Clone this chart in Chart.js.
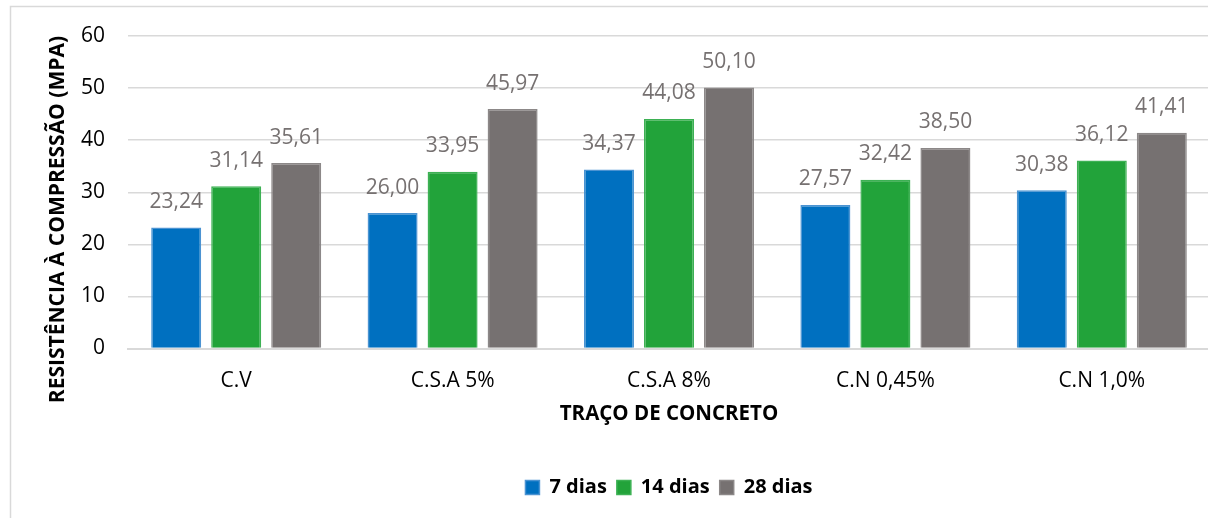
<!DOCTYPE html>
<html>
<head>
<meta charset="utf-8">
<script src="https://cdn.jsdelivr.net/npm/chart.js@4/dist/chart.umd.min.js"></script>
<style>
  html, body { margin: 0; padding: 0; overflow: hidden; background: #fff; }
  #wrap { position: absolute; left: 0; top: 0; width: 1230px; height: 518px; }
</style>
</head>
<body>
<div id="wrap"><canvas id="c"></canvas></div>
<script>
const categories = ['C.V', 'C.S.A 5%', 'C.S.A 8%', 'C.N 0,45%', 'C.N 1,0%'];
const seriesNames = ['7 dias', '14 dias', '28 dias'];
const dias7 = [23.24, 26.00, 34.37, 27.57, 30.38];
const dias14 = [31.14, 33.95, 44.08, 32.42, 36.12];
const dias28 = [35.61, 45.97, 50.10, 38.50, 41.41];
const yTicks = [0, 10, 20, 30, 40, 50, 60];
const yTitle = 'RESISTÊNCIA À COMPRESSÃO (MPA)';
const xTitle = 'TRAÇO DE CONCRETO';

const FONT = "'Open Sans', 'Noto Sans', sans-serif";

const frame = {
  id: 'frame',
  beforeDraw(chart) {
    const ctx = chart.ctx;
    ctx.save();
    ctx.fillStyle = '#fff';
    ctx.fillRect(0, 0, chart.width, chart.height);
    ctx.strokeStyle = '#D9D9D9';
    ctx.lineWidth = 1.5;
    ctx.beginPath();
    ctx.moveTo(10.5, chart.height + 5);
    ctx.lineTo(10.5, 6.5);
    ctx.lineTo(chart.width + 5, 6.5);
    ctx.stroke();
    ctx.restore();
  }
};

const valueLabels = {
  id: 'valueLabels',
  afterDatasetsDraw(chart) {
    const ctx = chart.ctx;
    ctx.save();
    ctx.font = "21px " + FONT;
    ctx.fillStyle = '#767171';
    ctx.textAlign = 'center';
    ctx.textBaseline = 'middle';
    chart.data.datasets.forEach((ds, i) => {
      const meta = chart.getDatasetMeta(i);
      meta.data.forEach((el, j) => {
        const v = ds.data[j];
        ctx.fillText(v.toFixed(2).replace('.', ','), el.x, el.y - 25.5);
      });
    });
    ctx.restore();
  }
};

new Chart(document.getElementById('c'), {
  type: 'bar',
  data: {
    labels: categories,
    datasets: [
      { label: seriesNames[0], data: dias7, backgroundColor: '#0070C0', borderColor: '#4B93D2', borderWidth: 1.5 },
      { label: seriesNames[1], data: dias14, backgroundColor: '#22A33A', borderColor: '#3DB154', borderWidth: 1.5 },
      { label: seriesNames[2], data: dias28, backgroundColor: '#767171', borderColor: '#8C8888', borderWidth: 1.5 }
    ]
  },
  options: {
    responsive: true,
    maintainAspectRatio: false,
    animation: false,
    devicePixelRatio: 1,
    layout: { padding: { left: 44, right: 20, top: 36, bottom: 10.5 } },
    datasets: { bar: { categoryPercentage: 0.832, barPercentage: 0.833 } },
    plugins: {
      legend: {
        position: 'bottom',
        fullSize: false,
        labels: {
          boxWidth: 14,
          boxHeight: 14,
          padding: 10,
          color: '#000',
          font: { family: FONT, size: 20, weight: 'bold' }
        }
      },
      tooltip: { enabled: false }
    },
    scales: {
      x: {
        grid: { display: false, drawTicks: true, tickLength: 16.4 },
        border: { display: true, color: '#D9D9D9', width: 2 },
        ticks: { color: '#000', padding: 4, font: { family: FONT, size: 21 } },
        title: {
          display: true, text: xTitle, color: '#000',
          font: { family: FONT, size: 20.5, weight: 'bold' },
          padding: { top: 4.1, bottom: 40.7 }
        }
      },
      y: {
        min: 0, max: 60,
        afterFit(scale) { scale.width = 84; },
        afterBuildTicks(scale) { scale.ticks = yTicks.map(v => ({ value: v })); },
        grid: { color: '#D9D9D9', lineWidth: 1.5, drawTicks: false },
        border: { display: false },
        ticks: { color: '#000', padding: 23, font: { family: FONT, size: 21 } },
        title: {
          display: true, text: yTitle, color: '#000', align: 'end',
          font: { family: FONT, size: 21, weight: 'bold' },
          padding: { top: 1, bottom: 0 }
        }
      }
    }
  },
  plugins: [frame, valueLabels]
});
</script>
</body>
</html>
